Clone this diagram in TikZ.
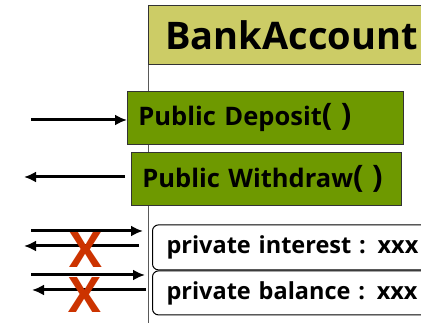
\documentclass[tikz,border=0pt]{standalone}
\usepackage{fontspec}
\setmainfont{Open Sans}
\definecolor{titleolive}{RGB}{204,204,102}
\definecolor{methodgreen}{RGB}{110,153,0}
\definecolor{crossred}{RGB}{204,51,0}
\usetikzlibrary{positioning, arrows.meta}
\tikzset{
x=1pt, y=-1pt, % work in picture pixels, y going down
arr/.style={line width=3pt, -{Latex[length=12pt,width=11pt]}}, % the bold call arrows
classbox/.style={draw=black!80, line width=0.8pt, fill=titleolive, font=\fontsize{38}{40}\selectfont\bfseries, text width=266pt, inner xsep=17pt, minimum height=59pt, align=left}, % sets the class name header
method/.style={draw=black!80, line width=0.8pt, fill=methodgreen, font=\fontsize{25.5}{27}\selectfont\bfseries, minimum height=53pt, align=left}, % public members
field/.style={draw=black, line width=1pt, rounded corners=6pt, fill=white, font=\fontsize{23.5}{25}\selectfont\bfseries, text width=272pt, inner xsep=14pt, align=left}, % private members
nope/.style={text=crossred, font=\fontsize{49}{50}\selectfont\bfseries, inner sep=0pt}, % sets the blocked mark
}
\newcommand{\callparens}{{\fontsize{31}{32}\selectfont( )}}

\begin{document}
\begin{tikzpicture}
      \clip (0,0) rectangle (421,323);
      \draw[black!65, line width=0.8pt] (148,5) -- (148,323);

      \node[classbox, anchor=north west] (title) at (148,5) {BankAccount};
      \node[method, below=26pt of title.south west, anchor=north west, xshift=-21pt, text width=254pt, inner xsep=11pt] (dep) {Public Deposit\callparens};
      \node[method, below=7pt of dep.south west, anchor=north west, xshift=4pt, text width=248pt, inner xsep=11pt] (wd) {Public Withdraw\callparens};
      \node[field, below=19pt of wd.south west, anchor=north west, xshift=21pt, minimum height=45pt] (intr) {private interest : xxx};
      \node[field, below=0pt of intr.south west, anchor=north west, minimum height=44pt] (bal) {private balance : xxx};

      \coordinate (depin) at (31,120);
      \coordinate (wdout) at (24,177);
      \coordinate (intrin) at (31,231);
      \coordinate (introut) at (24,246);
      \coordinate (balin) at (31,275);
      \coordinate (balout) at (32,290);

      \draw[arr] (depin) -- (depin -| dep.west);
      \draw[arr] ([xshift=-6pt]wdout -| wd.west) -- (wdout);
      \draw[arr] (intrin) -- ([xshift=-9pt]intrin -| intr.west);
      \draw[arr] ([xshift=-13pt]introut -| intr.west) -- (introut);
      \draw[arr] (balin) -- ([xshift=-7pt]balin -| bal.west);
      \draw[arr] ([xshift=-6pt]balout -| bal.west) -- (balout);

      \node[nope] (nointr) at (86,250) {X};
      \node[nope] (nobal) at (85,295) {X};
    \end{tikzpicture}
\end{document}
